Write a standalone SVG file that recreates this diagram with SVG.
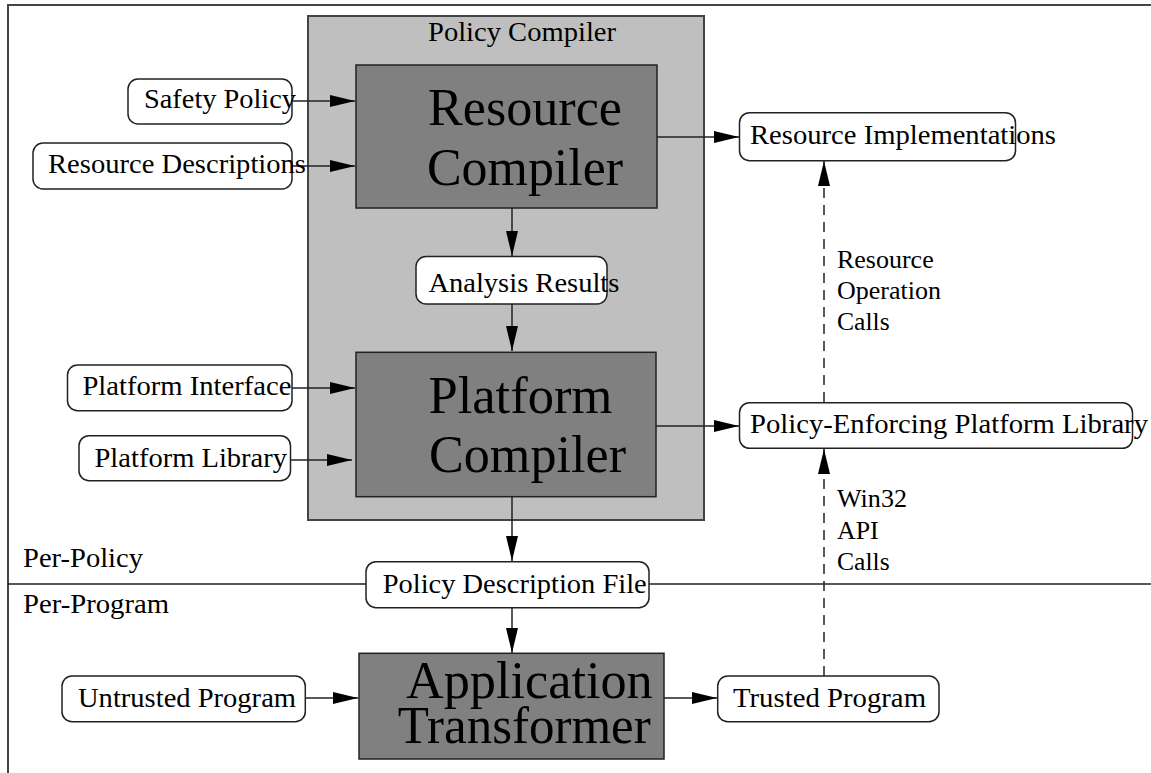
<svg xmlns="http://www.w3.org/2000/svg" width="1151" height="773" viewBox="0 0 1151 773">
<defs>
<marker id="ah" markerUnits="userSpaceOnUse" markerWidth="25" markerHeight="12" refX="25" refY="6" orient="auto">
<path d="M0,0 L25,6 L0,12 z" fill="#000"/>
</marker>
<style>
text{font-family:"Liberation Serif","Times New Roman",serif;fill:#000}
.s{font-size:28px}
.m{font-size:26px}
.b{font-size:52px}
.rb{fill:#fff;stroke:#222;stroke-width:1.5}
.db{fill:#808080;stroke:#222;stroke-width:1.5}
.c{stroke:#222;stroke-width:1.5;fill:none}
.a{marker-end:url(#ah)}
.d{stroke-dasharray:10,7}
</style>
</defs>
<rect x="8" y="5" width="1300" height="1000" fill="none" stroke="#444" stroke-width="2"/>
<g id="policy-compiler">
<rect x="308" y="16" width="396" height="504" fill="#bfbfbf" stroke="#444" stroke-width="2"/>
<text class="s" x="428" y="40.5" textLength="188" lengthAdjust="spacingAndGlyphs">Policy Compiler</text>
</g>
<line class="c" x1="8" y1="584" x2="1151" y2="584"/>
<g id="connectors">
<line class="c a" x1="292" y1="101" x2="355" y2="101"/>
<line class="c a" x1="292" y1="166" x2="355" y2="166"/>
<line class="c a" x1="657" y1="137" x2="739" y2="137"/>
<line class="c a" x1="512" y1="208" x2="512" y2="256"/>
<line class="c a" x1="512" y1="304" x2="512" y2="351"/>
<line class="c a" x1="292" y1="388" x2="355" y2="388"/>
<line class="c a" x1="291" y1="460" x2="352" y2="460"/>
<line class="c a" x1="656" y1="426" x2="739" y2="426"/>
<line class="c a" x1="512" y1="497" x2="512" y2="561"/>
<line class="c a" x1="512" y1="608" x2="512" y2="653"/>
<line class="c a" x1="305" y1="698" x2="358" y2="698"/>
<line class="c a" x1="664" y1="698" x2="717" y2="698"/>
<line class="c a d" x1="824" y1="402" x2="824" y2="161"/>
<line class="c a d" x1="824" y1="676" x2="824" y2="449"/>
<text class="m" x="837" y="268.3" textLength="96.7" lengthAdjust="spacingAndGlyphs">Resource</text>
<text class="m" x="837" y="299.3" textLength="104" lengthAdjust="spacingAndGlyphs">Operation</text>
<text class="m" x="837" y="330" textLength="52.7" lengthAdjust="spacingAndGlyphs">Calls</text>
<text class="m" x="837" y="507" textLength="70" lengthAdjust="spacingAndGlyphs">Win32</text>
<text class="m" x="837" y="539.3" textLength="41.7" lengthAdjust="spacingAndGlyphs">API</text>
<text class="m" x="837" y="570" textLength="52.7" lengthAdjust="spacingAndGlyphs">Calls</text>
</g>
<g id="resource-compiler">
<rect class="db" x="356" y="65" width="301" height="143"/>
<text class="b" x="428" y="125" textLength="194" lengthAdjust="spacingAndGlyphs">Resource</text>
<text class="b" x="427" y="185" textLength="196" lengthAdjust="spacingAndGlyphs">Compiler</text>
</g>
<g id="safety-policy">
<rect class="rb" x="128" y="79" width="164" height="45" rx="10"/>
<text class="s" x="144" y="108" textLength="152" lengthAdjust="spacingAndGlyphs">Safety Policy</text>
</g>
<g id="resource-descriptions">
<rect class="rb" x="33" y="143" width="259" height="46" rx="10"/>
<text class="s" x="48" y="173.3" textLength="258" lengthAdjust="spacingAndGlyphs">Resource Descriptions</text>
</g>
<g id="analysis-results">
<rect class="rb" x="416" y="256.5" width="191" height="47.5" rx="10"/>
<text class="s" x="428.4" y="291.7" textLength="191" lengthAdjust="spacingAndGlyphs">Analysis Results</text>
</g>
<g id="platform-compiler">
<rect class="db" x="356" y="352.3" width="300" height="144.4"/>
<text class="b" x="428.4" y="412.7" textLength="184" lengthAdjust="spacingAndGlyphs">Platform</text>
<text class="b" x="429" y="471.7" textLength="197" lengthAdjust="spacingAndGlyphs">Compiler</text>
</g>
<g id="platform-interface">
<rect class="rb" x="67.5" y="365" width="224.5" height="45.7" rx="10"/>
<text class="s" x="82.4" y="395" textLength="209" lengthAdjust="spacingAndGlyphs">Platform Interface</text>
</g>
<g id="platform-library">
<rect class="rb" x="79" y="435.7" width="211.5" height="45" rx="10"/>
<text class="s" x="94.5" y="466.7" textLength="192.5" lengthAdjust="spacingAndGlyphs">Platform Library</text>
</g>
<g id="resource-implementations">
<rect class="rb" x="739.5" y="112.7" width="276" height="48" rx="10"/>
<text class="s" x="750" y="144" textLength="306" lengthAdjust="spacingAndGlyphs">Resource Implementations</text>
</g>
<g id="policy-enforcing-platform-library">
<rect class="rb" x="739.5" y="402.7" width="393" height="45.6" rx="10"/>
<text class="s" x="750" y="432.7" textLength="398" lengthAdjust="spacingAndGlyphs">Policy-Enforcing Platform Library</text>
</g>
<g id="per-labels">
<text class="s" x="23" y="566.7" textLength="120" lengthAdjust="spacingAndGlyphs">Per-Policy</text>
<text class="s" x="23" y="613.3" textLength="146" lengthAdjust="spacingAndGlyphs">Per-Program</text>
</g>
<g id="policy-description-file">
<rect class="rb" x="366" y="561.7" width="283" height="46" rx="10"/>
<text class="s" x="382.7" y="593" textLength="264" lengthAdjust="spacingAndGlyphs">Policy Description File</text>
</g>
<g id="application-transformer">
<rect class="db" x="359" y="653.3" width="305" height="105.7"/>
<text class="b" x="406" y="698" textLength="246.7" lengthAdjust="spacingAndGlyphs">Application</text>
<text class="b" x="397.7" y="743" textLength="253" lengthAdjust="spacingAndGlyphs">Transformer</text>
</g>
<g id="untrusted-program">
<rect class="rb" x="62" y="676" width="243.3" height="45.7" rx="10"/>
<text class="s" x="78" y="706.7" textLength="218" lengthAdjust="spacingAndGlyphs">Untrusted Program</text>
</g>
<g id="trusted-program">
<rect class="rb" x="717.7" y="676" width="221.3" height="45.7" rx="10"/>
<text class="s" x="733" y="706.7" textLength="193" lengthAdjust="spacingAndGlyphs">Trusted Program</text>
</g>
</svg>
